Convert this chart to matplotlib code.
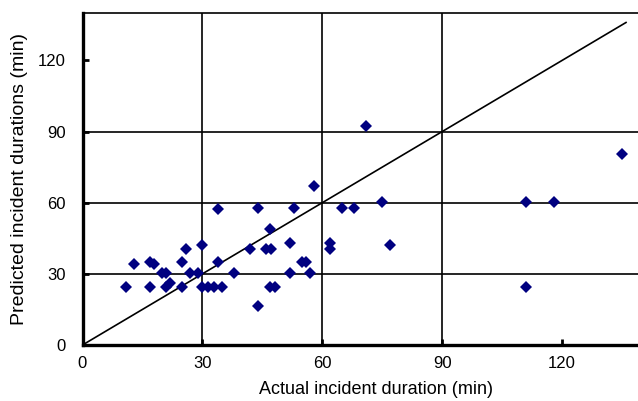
import matplotlib
matplotlib.use("Agg")
import matplotlib.pyplot as plt

plt.rcParams['font.family'] = ['Liberation Sans', 'DejaVu Sans']

actual = [11, 13, 17, 17, 18, 20, 21, 21, 22, 25, 25, 26, 27, 29, 30, 30, 31.5, 33, 35,
          34, 34, 38, 42, 44, 44, 46, 47.2, 47, 47, 48.2, 52, 52, 53, 54.8, 56, 57,
          58, 62, 62, 65, 68, 71, 75, 77, 111, 118, 111, 135]
predicted = [24.5, 34.3, 24.5, 35, 34.3, 30.2, 30.2, 24.5, 26, 35, 24.5, 40.5, 30.2, 30.2,
             42.2, 24.5, 24.5, 24.5, 24.5, 35, 57.5, 30.2, 40.3, 57.7, 16.4, 40.3, 40.3,
             48.8, 24.5, 24.5, 30.2, 43, 57.7, 35, 35, 30.2, 66.9, 43.2, 40.3, 57.7, 57.7,
             92.2, 60.1, 42.1, 60.3, 60.3, 24.5, 80.7]
line_x = [0, 136]
line_y = [0, 136]
ticks = [0, 30, 60, 90, 120]
grid_vals = [30, 60, 90]

fig = plt.figure(figsize=(6.38, 4.01), dpi=100)
ax = fig.add_axes([82.5 / 638, 1 - 345 / 401, 1 - 82.5 / 638, (345 - 13) / 401])

for g in grid_vals:
    ax.axhline(g, color='black', lw=1.2, zorder=1)
    ax.axvline(g, color='black', lw=1.2, zorder=1)

ax.plot(line_x, line_y, color='black', lw=1.2, zorder=2)
ax.plot(actual, predicted, linestyle='none', marker='D', markersize=6.2,
        color='#000080', markeredgewidth=0, zorder=3)

ax.set_xlim(0, 139)
ax.set_ylim(0, 140)
ax.set_xticks(ticks)
ax.set_yticks(ticks)
ax.tick_params(direction='in', length=4, width=2, labelsize=12, pad=8)
ax.tick_params(axis='y', pad=12)

ax.spines['left'].set_linewidth(2.4)
ax.spines['bottom'].set_linewidth(2.4)
ax.spines['top'].set_linewidth(1.2)
ax.spines['right'].set_visible(False)

ax.set_xlabel('Actual incident duration (min)', fontsize=13)
ax.set_ylabel('Predicted incident durations (min)', fontsize=14)
ax.xaxis.set_label_coords((376 - 82.5) / (638 - 82.5), -(381 - 345) / 332)
ax.yaxis.set_label_coords(-(82.5 - 20) / 555.5, 0.5)
ax.yaxis.label.set_va('center')

fig.savefig('out.png', dpi=100)
